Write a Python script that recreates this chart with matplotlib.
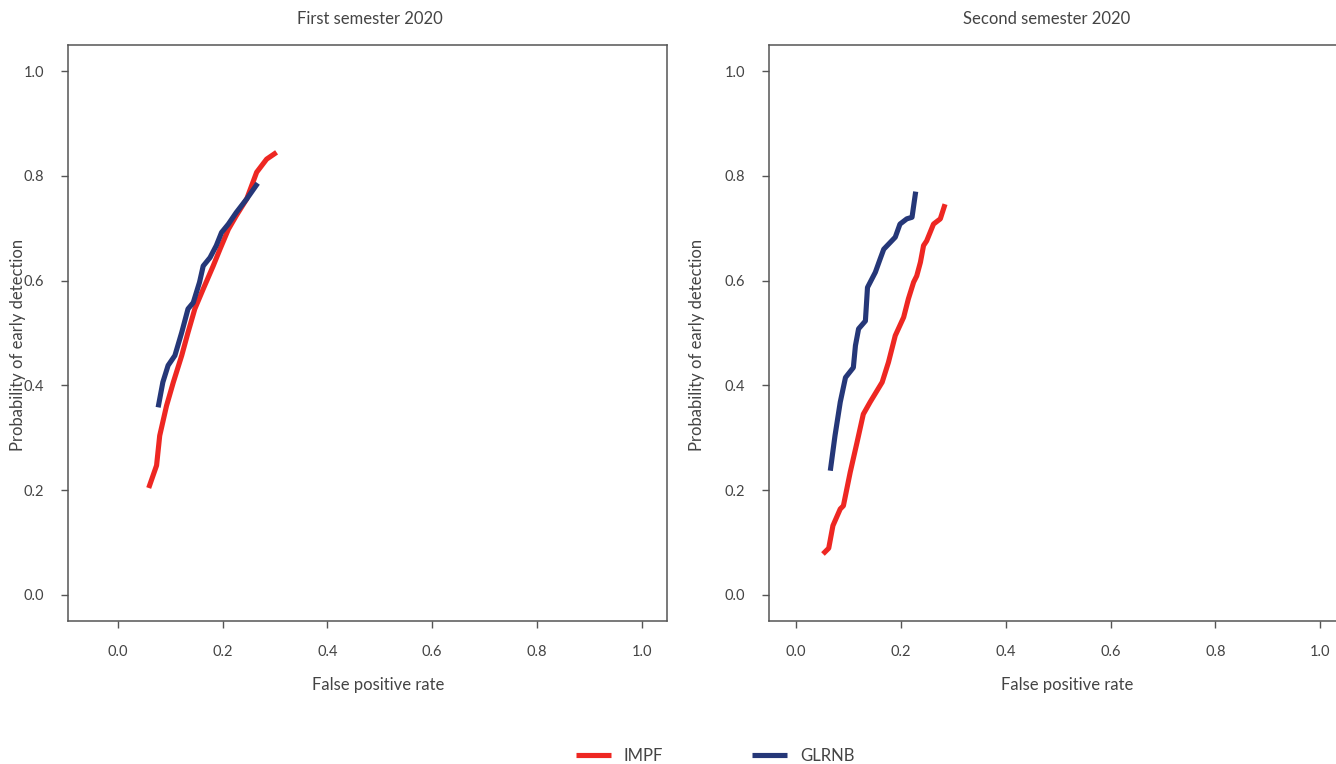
import matplotlib
matplotlib.use("Agg")
import matplotlib.pyplot as plt

plt.rcParams['font.family'] = ['Lato', 'DejaVu Sans']

red = '#ee2722'
navy = '#253778'

# first semester 2020
fpr_impf_1 = [0.059, 0.074, 0.080, 0.093, 0.106, 0.122, 0.134, 0.147, 0.163, 0.182,
              0.195, 0.211, 0.226, 0.246, 0.265, 0.284, 0.303]
pod_impf_1 = [0.204, 0.247, 0.304, 0.361, 0.406, 0.457, 0.501, 0.546, 0.584, 0.628,
              0.660, 0.698, 0.724, 0.756, 0.807, 0.832, 0.845]
fpr_glrnb_1 = [0.077, 0.086, 0.096, 0.109, 0.122, 0.134, 0.144, 0.156, 0.163, 0.176,
               0.188, 0.198, 0.211, 0.226, 0.246, 0.267]
pod_glrnb_1 = [0.358, 0.406, 0.438, 0.457, 0.501, 0.546, 0.558, 0.597, 0.628, 0.644,
               0.667, 0.692, 0.708, 0.730, 0.756, 0.786]

# second semester 2020
fpr_impf_2 = [0.051, 0.062, 0.070, 0.084, 0.090, 0.103, 0.116, 0.128, 0.141, 0.164,
              0.176, 0.189, 0.205, 0.214, 0.224, 0.230, 0.237, 0.243, 0.249, 0.262,
              0.275, 0.284]
pod_impf_2 = [0.078, 0.089, 0.132, 0.164, 0.170, 0.234, 0.291, 0.345, 0.368, 0.406,
              0.444, 0.495, 0.530, 0.565, 0.597, 0.609, 0.635, 0.667, 0.676, 0.708,
              0.718, 0.746]
fpr_glrnb_2 = [0.065, 0.074, 0.084, 0.094, 0.109, 0.113, 0.119, 0.132, 0.136, 0.151,
               0.160, 0.167, 0.189, 0.198, 0.211, 0.221, 0.228]
pod_glrnb_2 = [0.237, 0.304, 0.368, 0.415, 0.434, 0.476, 0.508, 0.523, 0.587, 0.616,
               0.641, 0.660, 0.683, 0.708, 0.718, 0.721, 0.770]

ticks = [0.0, 0.2, 0.4, 0.6, 0.8, 1.0]
tick_labels = ['0.0', '0.2', '0.4', '0.6', '0.8', '1.0']

fig = plt.figure(figsize=(13.36, 7.64), dpi=100)
W, H = 1336, 764

def box(x0, x1, y0, y1):
    return [x0 / W, 1 - y1 / H, (x1 - x0) / W, (y1 - y0) / H]

ax1 = fig.add_axes(box(68, 667, 45, 621))
# right panel runs off the edge of the picture, like the source
ax2 = fig.add_axes(box(769, 1350, 45, 621))

panels = [
    (ax1, fpr_impf_1, pod_impf_1, fpr_glrnb_1, pod_glrnb_1, (-0.095, 1.048)),
    (ax2, fpr_impf_2, pod_impf_2, fpr_glrnb_2, pod_glrnb_2, (-0.052, 1.057)),
]
lines = []
for ax, xi, yi, xg, yg, xl in panels:
    l1, = ax.plot(xi, yi, color=red, lw=3.7, label='IMPF', solid_capstyle='butt')
    l2, = ax.plot(xg, yg, color=navy, lw=3.7, label='GLRNB', solid_capstyle='butt')
    lines = [l1, l2]
    ax.set_xlim(*xl)
    ax.set_ylim(-0.05, 1.05)
    ax.set_xticks(ticks)
    ax.set_xticklabels(tick_labels)
    ax.set_yticks(ticks)
    ax.set_yticklabels(tick_labels)
    ax.tick_params(direction='out', length=5, width=1, color='#555555',
                   labelcolor='#444444', labelsize=10.5, pad=12)
    for s in ax.spines.values():
        s.set_color('#555555')
        s.set_linewidth(1.1)

fig.text(370 / W, 1 - 19 / H, 'First semester 2020', ha='center', va='center',
         fontsize=12, color='#444444')
fig.text(1047 / W, 1 - 19 / H, 'Second semester 2020', ha='center', va='center',
         fontsize=12, color='#444444')
fig.text(378 / W, 1 - 685 / H, 'False positive rate', ha='center', va='center',
         fontsize=12, color='#444444')
fig.text(1067 / W, 1 - 685 / H, 'False positive rate', ha='center', va='center',
         fontsize=12, color='#444444')
fig.text(18 / W, 1 - 345 / H, 'Probability of early detection', ha='center',
         va='center', rotation=90, fontsize=12, color='#444444')
fig.text(697 / W, 1 - 345 / H, 'Probability of early detection', ha='center',
         va='center', rotation=90, fontsize=12, color='#444444')

leg = fig.legend(lines, ['IMPF', 'GLRNB'], loc='center', ncol=2,
                 bbox_to_anchor=(715 / W, 1 - 756 / H), frameon=False,
                 fontsize=12, handlelength=2.1, handletextpad=0.8,
                 columnspacing=5.3)
for t in leg.get_texts():
    t.set_color('#444444')

fig.savefig('out.png', dpi=100)
